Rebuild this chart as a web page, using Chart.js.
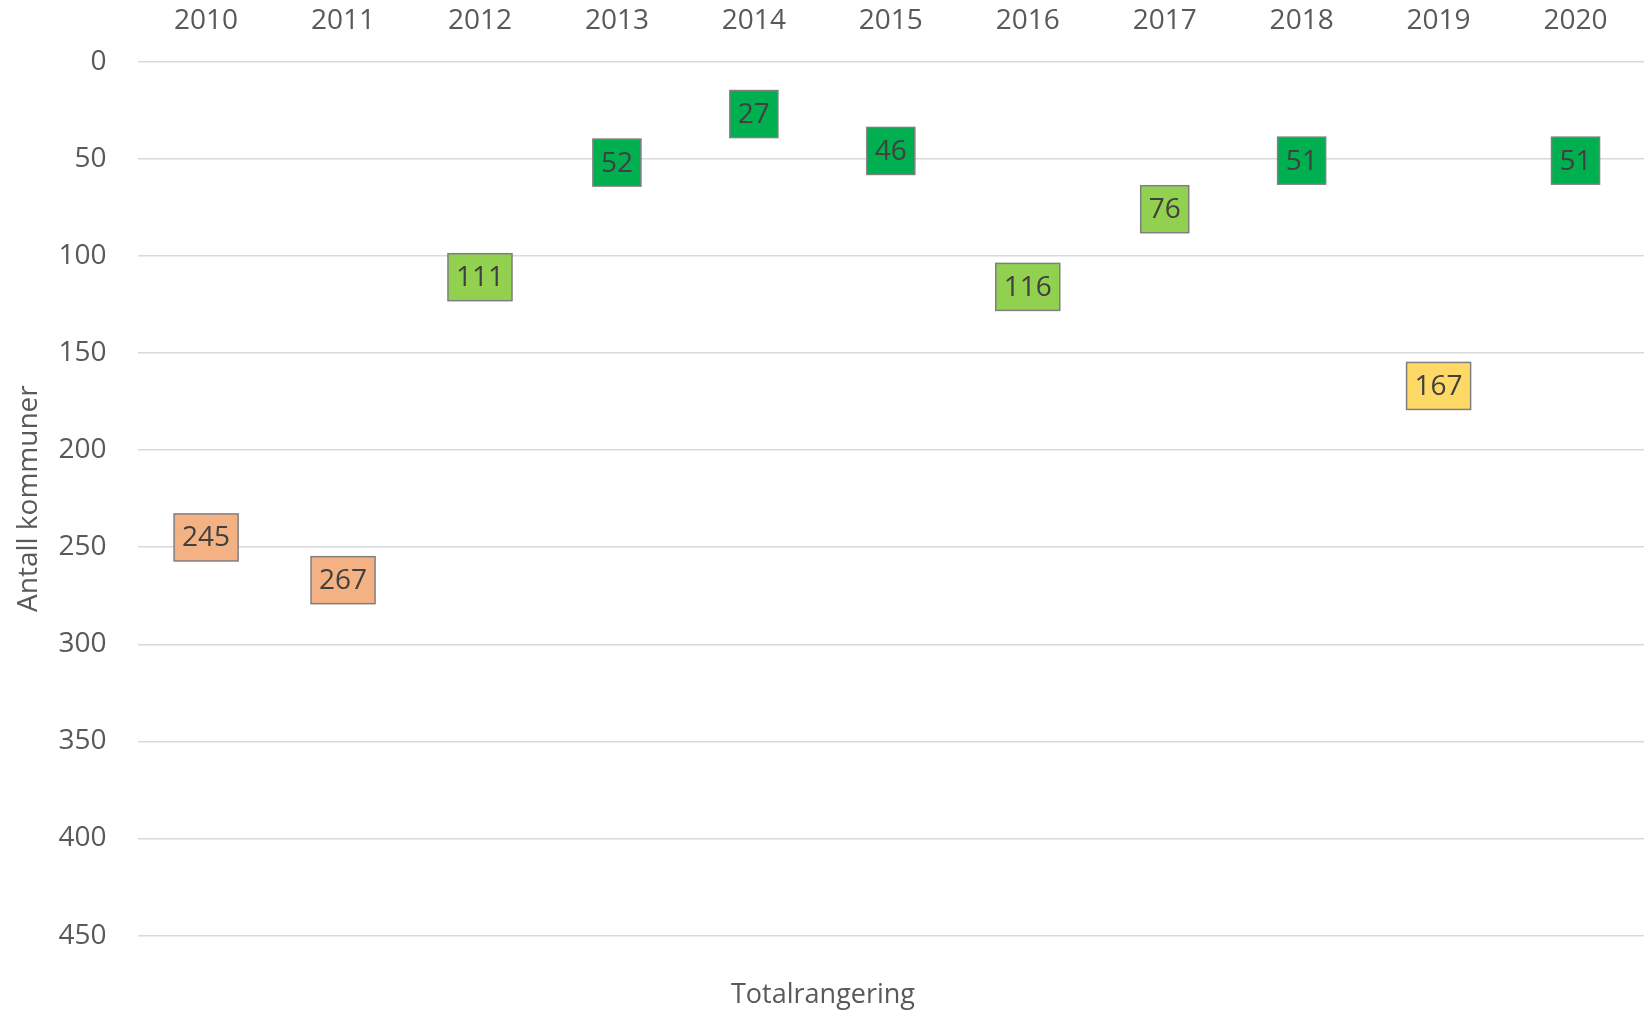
<!DOCTYPE html>
<html>
<head>
<meta charset="utf-8">
<script src="https://cdn.jsdelivr.net/npm/chart.js@4/dist/chart.umd.min.js"></script>
<style>
  html, body { margin: 0; padding: 0; background: #fff; }
  #wrap { width: 1644px; height: 1016px; }
</style>
</head>
<body>
<div id="wrap"><canvas id="myChart"></canvas></div>
<script>
const years = ['2010', '2011', '2012', '2013', '2014', '2015', '2016', '2017', '2018', '2019', '2020'];
const ranking = [245, 267, 111, 52, 27, 46, 116, 76, 51, 167, 51];
const yTicks = [0, 50, 100, 150, 200, 250, 300, 350, 400, 450];

const FONT = '"Open Sans", "Noto Sans", sans-serif';

// colour band by rank
function bandColor(v) {
    if (v <= 60) return '#00B050';
    if (v <= 130) return '#92D050';
    if (v <= 200) return '#FFD966';
    return '#F4B183';
}

// draws each value as a boxed label at its point
const boxLabels = {
    id: 'boxLabels',
    afterDatasetsDraw(chart) {
        const ctx = chart.ctx;
        const meta = chart.getDatasetMeta(0);
        const values = chart.data.datasets[0].data;
        ctx.save();
        ctx.font = '28px ' + FONT;
        ctx.textAlign = 'center';
        ctx.textBaseline = 'middle';
        meta.data.forEach((pt, i) => {
            const txt = String(values[i]);
            const w = ctx.measureText(txt).width + 16;
            const h = 47;
            const x = pt.x - w / 2;
            const y = pt.y - h / 2;
            ctx.fillStyle = bandColor(values[i]);
            ctx.fillRect(x, y, w, h);
            ctx.lineWidth = 1.5;
            ctx.strokeStyle = '#7f7f7f';
            ctx.strokeRect(x, y, w, h);
            ctx.fillStyle = '#404040';
            ctx.fillText(txt, pt.x, pt.y + 1);
        });
        ctx.restore();
    }
};

const data = {
    labels: years,
    datasets: [
        {
            label: 'Totalrangering',
            data: ranking,
            showLine: false,
            pointRadius: 0,
            pointHoverRadius: 0,
        }
    ]
};

const config = {
    type: 'line',
    data: data,
    plugins: [boxLabels],
    options: {
        responsive: true,
        maintainAspectRatio: false,
        animation: false,
        layout: {
            padding: { top: -12, right: 0, bottom: 4, left: 2 }
        },
        plugins: {
            legend: { display: false },
            tooltip: { enabled: false },
            title: {
                display: true,
                position: 'bottom',
                text: 'Totalrangering',
                color: '#595959',
                font: { family: FONT, size: 27, weight: 'normal' },
                padding: { top: 44, bottom: 0 }
            }
        },
        scales: {
            x: {
                position: 'top',
                offset: true,
                grid: { display: false },
                border: { display: false },
                ticks: {
                    color: '#595959',
                    font: { family: FONT, size: 28 },
                    padding: 16,
                    maxRotation: 0
                }
            },
            y: {
                reverse: true,
                min: 0,
                max: 450,
                afterBuildTicks(axis) {
                    axis.ticks = yTicks.map(v => ({ value: v }));
                },
                grid: { color: '#d9d9d9', lineWidth: 1.5, drawTicks: false },
                border: { display: false },
                ticks: {
                    color: '#595959',
                    font: { family: FONT, size: 28 },
                    padding: 31
                },
                title: {
                    display: true,
                    text: 'Antall kommuner',
                    color: '#595959',
                    font: { family: FONT, size: 28, weight: 'normal' },
                    padding: { top: 10, bottom: -18 }
                }
            }
        }
    },
};

const myChart = new Chart(
    document.getElementById('myChart'),
    config
);
</script>
</body>
</html>
